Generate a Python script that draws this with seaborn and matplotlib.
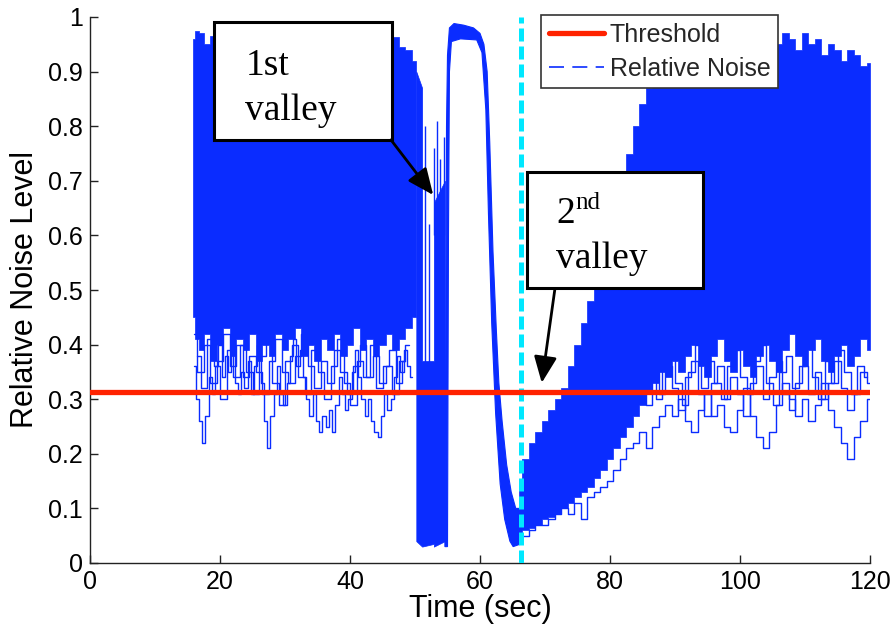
import numpy as np
import matplotlib
matplotlib.use('Agg')
import matplotlib.pyplot as plt
import seaborn as sns
from matplotlib.lines import Line2D
from matplotlib.patches import Rectangle
from matplotlib.ticker import FormatStrFormatter

# ---- data ----
threshold = 0.313
valley_time = 66.3

# early noise band (dense part)
band1_t = [15.8, 16.5, 17, 18, 19, 20, 21, 22, 23, 24, 25, 26, 27, 28, 29, 30, 31, 32,
           33, 34, 35, 36, 37, 38, 39, 40, 41, 42, 43, 44, 45, 46, 47, 48, 49, 50.2]
band1_hi = [0.96, 0.975, 0.97, 0.95, 0.965, 0.97, 0.955, 0.97, 0.96, 0.975, 0.965, 0.955,
            0.97, 0.96, 0.975, 0.96, 0.965, 0.955, 0.97, 0.96, 0.965, 0.975, 0.955, 0.97,
            0.96, 0.965, 0.975, 0.96, 0.97, 0.955, 0.965, 0.972, 0.963, 0.945, 0.94, 0.92]
band1_lo = [0.45, 0.41, 0.39, 0.42, 0.37, 0.40, 0.43, 0.38, 0.41, 0.39, 0.42, 0.37,
            0.40, 0.38, 0.42, 0.39, 0.41, 0.43, 0.38, 0.40, 0.37, 0.41, 0.39, 0.42,
            0.38, 0.40, 0.43, 0.39, 0.41, 0.38, 0.40, 0.42, 0.39, 0.41, 0.43, 0.45]

# first valley block
block_t = [50.2, 51.1, 51.1, 52.9, 52.9, 54.6]
block_hi = [0.90, 0.87, 0.37, 0.37, 0.66, 0.70]
block_lo = [0.04, 0.03, 0.03, 0.035, 0.03, 0.04]
spike_t = [51.6, 52.2, 52.95, 53.4, 53.9, 54.4]
spike_top = [0.80, 0.62, 0.76, 0.81, 0.74, 0.78]
spike_bottom = [0.30, 0.30, 0.60, 0.60, 0.60, 0.60]

# the hump between valleys (outline: outer edge, then inner edge back)
hump_t = [54.6, 54.75, 54.85, 55.0, 55.3, 56.0, 57.5, 59.0, 60.0, 60.6, 61.1, 61.5, 62.0,
          62.5, 62.9, 63.4, 64.1, 64.8, 65.5, 66.3,
          66.3, 65.1, 64.6, 63.8, 63.1, 62.4, 61.8, 61.3, 60.9, 60.3, 59.5, 57.0, 55.6,
          55.3, 55.15, 55.0]
hump_v = [0.03, 0.45, 0.80, 0.93, 0.98, 0.988, 0.985, 0.98, 0.97, 0.95, 0.90, 0.77, 0.57,
          0.43, 0.33, 0.26, 0.18, 0.13, 0.10, 0.10,
          0.035, 0.03, 0.04, 0.08, 0.145, 0.275, 0.44, 0.64, 0.83, 0.935, 0.958, 0.96, 0.955,
          0.90, 0.60, 0.03]

# late noise band, t = 66 .. 120
band3_t = list(range(66, 121))
band3_hi = [0.15, 0.19, 0.22, 0.24, 0.26, 0.28, 0.30, 0.32, 0.36, 0.40, 0.44, 0.48, 0.52,
            0.56, 0.60, 0.65, 0.70, 0.75, 0.80, 0.84, 0.87, 0.90, 0.92, 0.93, 0.94,
            0.95, 0.94, 0.96, 0.95, 0.94, 0.96, 0.95, 0.97, 0.94, 0.96,
            0.95, 0.97, 0.94, 0.96, 0.98, 0.95, 0.97, 0.96, 0.94, 0.97,
            0.95, 0.96, 0.93, 0.95, 0.94, 0.92, 0.94, 0.93, 0.91, 0.915]
band3_lo = [0.05, 0.06, 0.065, 0.07, 0.08, 0.085, 0.09, 0.10, 0.11, 0.12, 0.13, 0.14, 0.155,
            0.17, 0.19, 0.21, 0.23, 0.25, 0.27, 0.29,
            0.31, 0.33, 0.35, 0.34, 0.37, 0.35, 0.38, 0.40, 0.36, 0.34, 0.38, 0.41, 0.37,
            0.35, 0.39, 0.36, 0.34, 0.38, 0.40, 0.37, 0.35, 0.39, 0.42, 0.38, 0.36, 0.39,
            0.41, 0.37, 0.35, 0.38, 0.40, 0.36, 0.38, 0.41, 0.39]

# sparse low traces
traceA_t = np.arange(16.0, 50.0, 0.5)
traceA = [0.36, 0.30, 0.26, 0.22, 0.27, 0.34, 0.31, 0.36, 0.40, 0.34,
          0.38, 0.35, 0.39, 0.33, 0.31, 0.35, 0.32, 0.37, 0.31, 0.36,
          0.40, 0.33, 0.26, 0.21, 0.27, 0.31, 0.36, 0.31, 0.29, 0.33,
          0.38, 0.41, 0.36, 0.39, 0.34, 0.30, 0.27, 0.31, 0.26, 0.24,
          0.27, 0.25, 0.28, 0.24, 0.29, 0.34, 0.31, 0.28, 0.30, 0.35,
          0.39, 0.34, 0.30, 0.27, 0.30, 0.26, 0.24, 0.23, 0.27, 0.31,
          0.28, 0.30, 0.34, 0.38, 0.35, 0.39, 0.36, 0.34]
traceB_t = list(range(16, 50))
traceB = [0.42, 0.35, 0.40, 0.33, 0.37, 0.42, 0.36, 0.40, 0.34, 0.38,
          0.35, 0.31, 0.37, 0.41, 0.35, 0.33, 0.38, 0.42, 0.36, 0.32,
          0.37, 0.33, 0.39, 0.35, 0.31, 0.36, 0.40, 0.34, 0.38, 0.33,
          0.36, 0.31, 0.37, 0.40]
traceE_t = np.arange(16.5, 49.5, 1.0)
traceE = [0.38, 0.32, 0.41, 0.36, 0.30, 0.39, 0.34, 0.40, 0.35, 0.31,
          0.38, 0.42, 0.33, 0.29, 0.37, 0.40, 0.34, 0.31, 0.39, 0.35,
          0.30, 0.36, 0.41, 0.33, 0.29, 0.37, 0.34, 0.40, 0.32, 0.36,
          0.39, 0.33, 0.37]
traceC_t = list(range(66, 121))
traceC = [0.04, 0.05, 0.06, 0.07, 0.07, 0.08, 0.09, 0.10, 0.09, 0.11,
          0.08, 0.12, 0.13, 0.14, 0.15, 0.17, 0.19, 0.21, 0.22, 0.24,
          0.21, 0.25, 0.27, 0.29, 0.27, 0.30, 0.26, 0.24, 0.28, 0.31,
          0.27, 0.29, 0.25, 0.24, 0.28, 0.32, 0.27, 0.23, 0.21, 0.24,
          0.29, 0.33, 0.30, 0.27, 0.30, 0.26, 0.29, 0.33, 0.28, 0.25,
          0.22, 0.19, 0.23, 0.26, 0.30]
traceD_t = list(range(85, 121))
traceD = [0.33, 0.29, 0.35, 0.31, 0.36, 0.32, 0.28, 0.34, 0.37, 0.31,
          0.27, 0.33, 0.36, 0.30, 0.34, 0.31, 0.27, 0.33, 0.36, 0.30,
          0.34, 0.37, 0.31, 0.28, 0.33, 0.36, 0.31, 0.35, 0.30, 0.33,
          0.37, 0.32, 0.28, 0.31, 0.35, 0.33]
traceF_t = np.arange(85.5, 120.5, 1.0)
traceF = [0.38, 0.34, 0.30, 0.36, 0.39, 0.33, 0.29, 0.35, 0.40, 0.32,
          0.37, 0.33, 0.30, 0.36, 0.39, 0.34, 0.31, 0.37, 0.40, 0.33,
          0.29, 0.35, 0.38, 0.32, 0.36, 0.40, 0.34, 0.30, 0.37, 0.33,
          0.39, 0.35, 0.31, 0.36, 0.34]

BLUE = '#0a2cff'
RED = '#ff2200'
CYAN = '#00e8ff'

sns.set_style('ticks')
plt.rcParams['font.family'] = ['Liberation Sans', 'DejaVu Sans']

fig = plt.figure(figsize=(8.96, 6.33), dpi=100)
ax = fig.add_axes([90 / 896, 70 / 633, 780 / 896, 546 / 633])

# noise bands
ax.fill_between(band1_t, band1_lo, band1_hi, step='mid', color=BLUE, lw=0.5, zorder=2)
ax.fill_between(block_t, block_lo, block_hi, color=BLUE, lw=0.5, zorder=2)
ax.vlines(spike_t, spike_bottom, spike_top, color=BLUE, lw=1.0, zorder=2)
ax.fill(hump_t, hump_v, color=BLUE, lw=0.8, zorder=2)
ax.fill_between(band3_t, band3_lo, band3_hi, step='mid', color=BLUE, lw=0.5, zorder=2)
traces = [(traceA_t, traceA), (traceB_t, traceB), (traceE_t, traceE),
          (traceC_t, traceC), (traceD_t, traceD), (traceF_t, traceF)]
for tx, ty in traces:
    sns.lineplot(x=tx, y=ty, ax=ax, color=BLUE, lw=1.0, estimator=None,
                 drawstyle='steps-mid', zorder=2)

# valley marker and threshold
ax.axvline(valley_time, color=CYAN, lw=3.6, dashes=(2.6, 1.0), zorder=3)
ax.axhline(threshold, color=RED, lw=3.8, zorder=4)

# annotation boxes
ax.add_patch(Rectangle((19.08, 0.775), 27.38, 0.216, facecolor='white',
                       edgecolor='black', lw=2.2, zorder=6))
ax.add_patch(Rectangle((67.2, 0.504), 27.1, 0.212, facecolor='white',
                       edgecolor='black', lw=2.2, zorder=6))
serif = dict(family='Liberation Serif', color='black', zorder=7, va='baseline', ha='left')
ax.text(24.0, 0.894, '1st', fontsize=27, **serif)
ax.text(23.85, 0.811, 'valley', fontsize=27, **serif)
ax.text(71.7, 0.623, '2', fontsize=27, **serif)
ax.text(74.6, 0.648, 'nd', fontsize=18, **serif)
ax.text(71.7, 0.540, 'valley', fontsize=27, **serif)

arrow = dict(arrowstyle='-|>,head_length=0.8,head_width=0.35', color='black', lw=2,
             mutation_scale=20, shrinkA=0, shrinkB=0)
ax.annotate('', xy=(52.8, 0.674), xytext=(46.3, 0.775), arrowprops=arrow, zorder=7)
ax.annotate('', xy=(69.5, 0.33), xytext=(71.5, 0.50), arrowprops=arrow, zorder=7)

# axes styling
ax.set_xlim(0, 120)
ax.set_ylim(0, 1)
ax.set_xticks(range(0, 121, 20))
ax.set_yticks(np.arange(0, 1.01, 0.1))
ax.yaxis.set_major_formatter(FormatStrFormatter('%g'))
sns.despine(ax=ax)
for s in ['left', 'bottom']:
    ax.spines[s].set_color('#222222')
    ax.spines[s].set_linewidth(1.0)
ax.tick_params(direction='in', length=5.5, width=1, colors='#222222',
               labelcolor='black', labelsize=18, pad=5)
ax.set_xlabel('Time (sec)', fontsize=22, color='black', labelpad=0)
ax.set_ylabel('Relative Noise Level', fontsize=22, color='black', labelpad=6)

handles = [Line2D([], [], color=RED, lw=3.8),
           Line2D([], [], color=BLUE, lw=1.2, dashes=(9, 5))]
leg = ax.legend(handles, ['Threshold', 'Relative Noise'], loc='upper right',
                bbox_to_anchor=((778 - 90) / 780, (563 - 15) / 546), fontsize=18,
                frameon=True, fancybox=False, edgecolor='#333333', framealpha=1,
                borderpad=0.3, labelspacing=0.4, handlelength=2.2,
                handletextpad=0.25, borderaxespad=0)
leg.get_frame().set_linewidth(1.2)
leg.set_zorder(8)

fig.savefig('out.png', dpi=100)
